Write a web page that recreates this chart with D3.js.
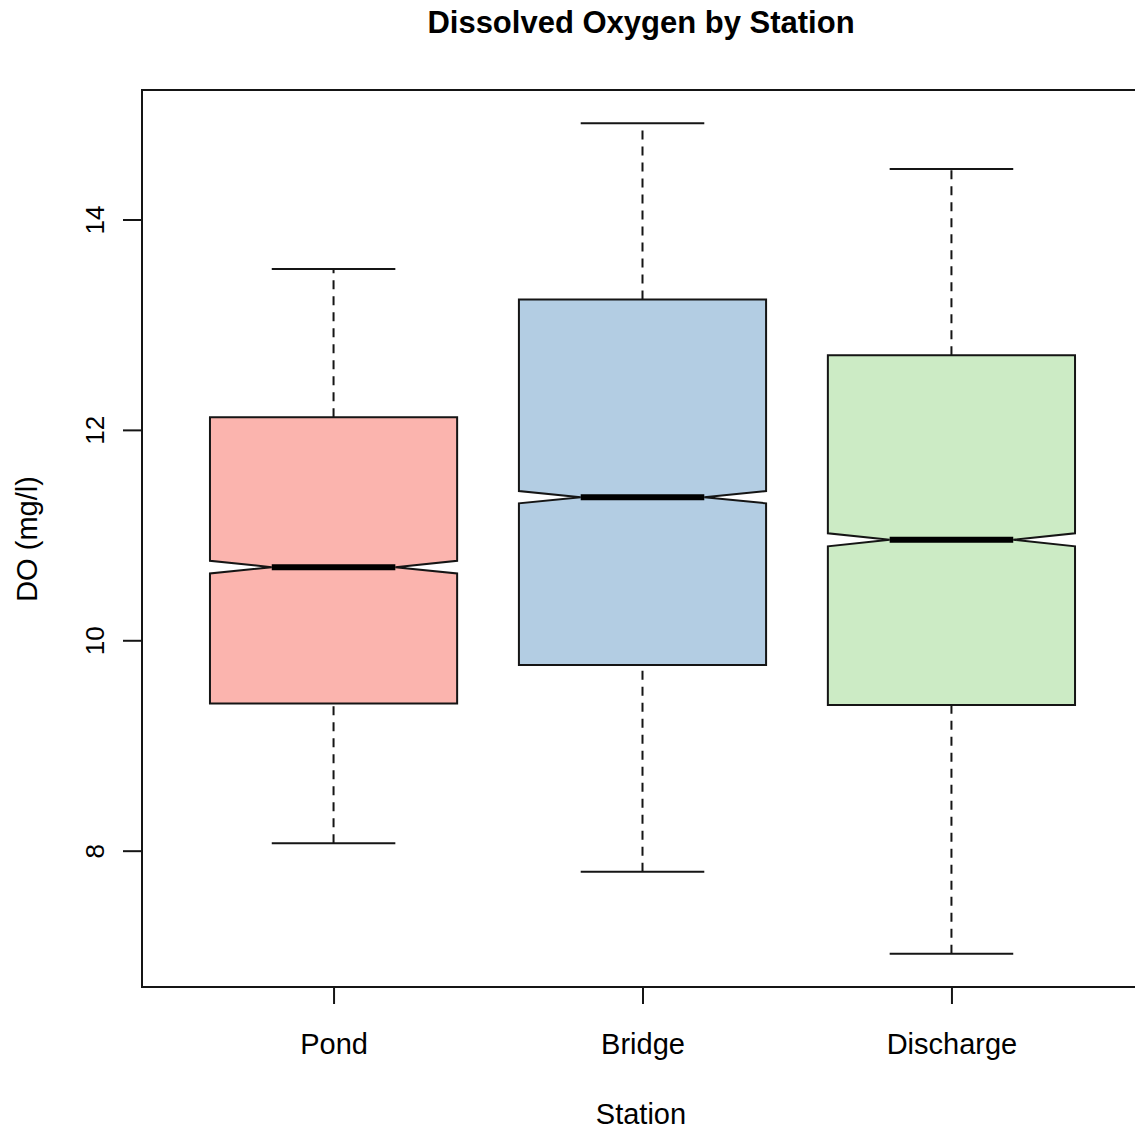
<!DOCTYPE html>
<html>
<head>
<meta charset="utf-8">
<script src="https://cdn.jsdelivr.net/npm/d3@7"></script>
<style>
  html, body { margin: 0; padding: 0; background: #fff; }
  svg { display: block; font-family: "Liberation Sans", Arial, sans-serif; }
</style>
</head>
<body>
<svg id="chart" width="1135" height="1130"></svg>
<script>
// Dissolved oxygen summary statistics per station (mg/l)
const stations   = ["Pond", "Bridge", "Discharge"];
const whiskerLo  = [8.07, 7.80, 7.02];
const quartile1  = [9.40, 9.765, 9.385];
const medians    = [10.695, 11.36, 10.955];
const quartile3  = [12.12, 13.24, 12.71];
const whiskerHi  = [13.53, 14.915, 14.48];
const notchHalf  = [0.060, 0.058, 0.062];
const fills      = ["#FBB4AE", "#B3CDE3", "#CCEBC5"];
const yTicks     = [8, 10, 12, 14];

const boxes = stations.map((s, i) => ({
  name: s, pos: i + 1,
  lo: whiskerLo[i], q1: quartile1[i], med: medians[i], q3: quartile3[i], hi: whiskerHi[i],
  notch: notchHalf[i], fill: fills[i]
}));

const svg = d3.select("#chart");
const plot = { left: 142, top: 90, right: 1143, bottom: 987 };

// R-style 4% axis padding
const dMin = d3.min(whiskerLo), dMax = d3.max(whiskerHi);
const pad = (dMax - dMin) * 0.04;
const y = d3.scaleLinear().domain([dMin - pad, dMax + pad]).range([plot.bottom, plot.top]);
const x = d3.scaleLinear().domain([0.38, 3.62]).range([plot.left, plot.right]);

const boxHalf = 0.4, stapleHalf = 0.2;
const ink = "#151515";
const g = svg.append("g");

boxes.forEach(b => {
  const cx = x(b.pos);
  const wBox = x(b.pos + boxHalf) - cx;
  const wStaple = x(b.pos + stapleHalf) - cx;

  // dashed whiskers
  [[b.lo, b.q1], [b.q3, b.hi]].forEach(([a, c]) => {
    g.append("line")
      .attr("x1", cx).attr("x2", cx)
      .attr("y1", y(a)).attr("y2", y(c))
      .attr("stroke", ink).attr("stroke-width", 2)
      .attr("stroke-dasharray", "9,7");
  });
  // staples
  [b.lo, b.hi].forEach(v => {
    g.append("line")
      .attr("x1", cx - wStaple).attr("x2", cx + wStaple)
      .attr("y1", y(v)).attr("y2", y(v))
      .attr("stroke", ink).attr("stroke-width", 2);
  });

  // notched box outline
  const nLo = b.med - b.notch, nHi = b.med + b.notch;
  const pts = [
    [cx - wBox, y(b.q1)], [cx - wBox, y(nLo)], [cx - wBox / 2, y(b.med)], [cx - wBox, y(nHi)],
    [cx - wBox, y(b.q3)], [cx + wBox, y(b.q3)], [cx + wBox, y(nHi)], [cx + wBox / 2, y(b.med)],
    [cx + wBox, y(nLo)], [cx + wBox, y(b.q1)]
  ];
  g.append("path")
    .attr("d", d3.line()(pts) + "Z")
    .attr("fill", b.fill)
    .attr("stroke", ink).attr("stroke-width", 2)
    .attr("stroke-linejoin", "miter");

  // median
  g.append("line")
    .attr("x1", cx - wBox / 2).attr("x2", cx + wBox / 2)
    .attr("y1", y(b.med)).attr("y2", y(b.med))
    .attr("stroke", "#000").attr("stroke-width", 6);
});

// plot frame
svg.append("rect")
  .attr("x", plot.left).attr("y", plot.top)
  .attr("width", plot.right - plot.left).attr("height", plot.bottom - plot.top)
  .attr("fill", "none").attr("stroke", ink).attr("stroke-width", 2);

// y axis
const yAxis = svg.append("g")
  .attr("transform", `translate(${plot.left},0)`)
  .call(d3.axisLeft(y).tickValues(yTicks).tickSize(19).tickPadding(0).tickFormat(d3.format("d")));
yAxis.select(".domain").remove();
yAxis.selectAll(".tick line").attr("stroke", ink).attr("stroke-width", 2);
yAxis.selectAll(".tick text")
  .attr("x", null).attr("dy", null)
  .attr("transform", "translate(-38,0) rotate(-90)")
  .attr("text-anchor", "middle")
  .attr("font-size", 26)
  .attr("fill", "#000");

// x axis
const xAxis = svg.append("g")
  .attr("transform", `translate(0,${plot.bottom})`)
  .call(d3.axisBottom(x).tickValues(boxes.map(b => b.pos)).tickSize(17).tickPadding(0)
    .tickFormat(d => stations[d - 1]));
xAxis.select(".domain").remove();
xAxis.selectAll(".tick line").attr("stroke", ink).attr("stroke-width", 2);
xAxis.selectAll(".tick text")
  .attr("y", 67).attr("dy", null)
  .attr("font-size", 29)
  .attr("fill", "#000");

// titles
svg.append("text")
  .attr("x", 641).attr("y", 33)
  .attr("text-anchor", "middle")
  .attr("font-size", 31).attr("font-weight", "bold")
  .text("Dissolved Oxygen by Station");

svg.append("text")
  .attr("x", 641).attr("y", 1124)
  .attr("text-anchor", "middle")
  .attr("font-size", 29)
  .text("Station");

svg.append("text")
  .attr("transform", "translate(37,539) rotate(-90)")
  .attr("text-anchor", "middle")
  .attr("font-size", 29)
  .text("DO (mg/l)");
</script>
</body>
</html>
